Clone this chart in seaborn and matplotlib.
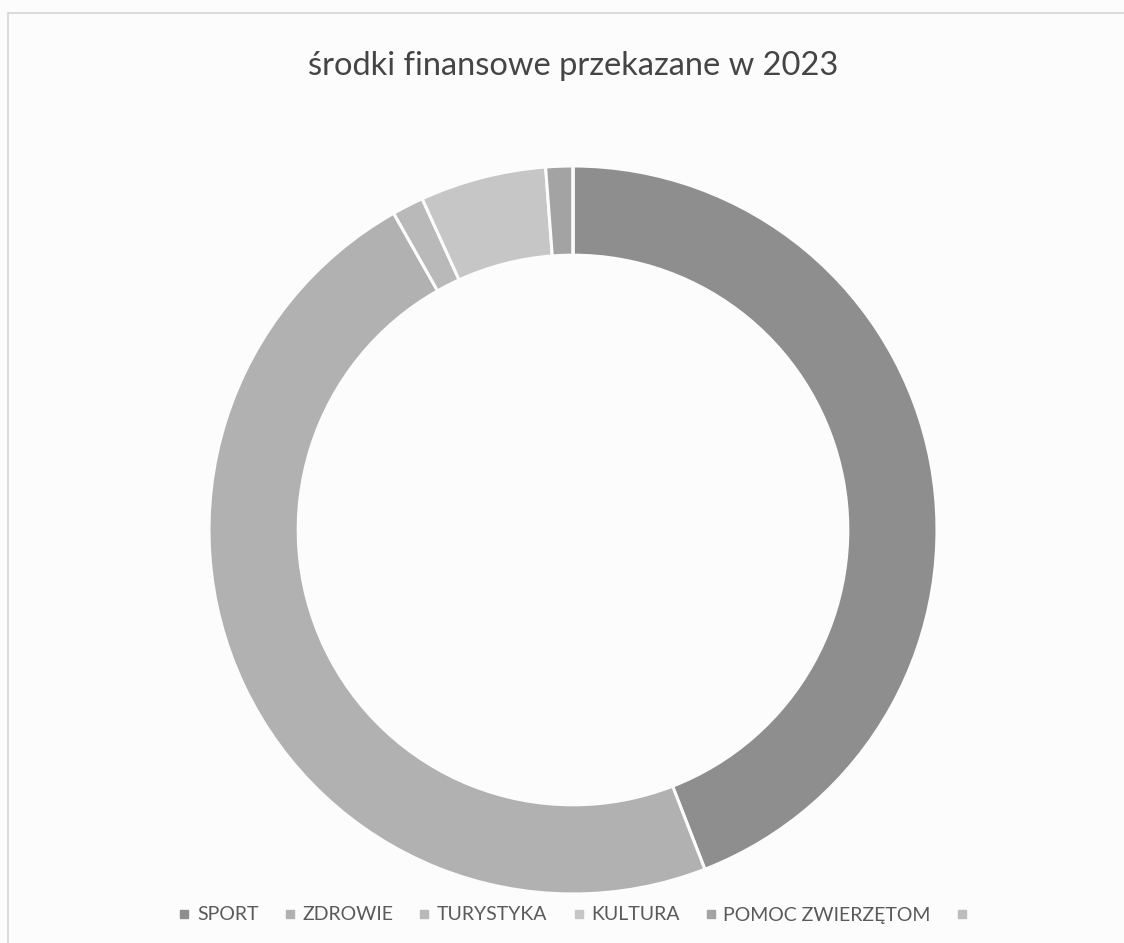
import matplotlib
matplotlib.use("Agg")
import matplotlib.pyplot as plt
import seaborn as sns
from matplotlib.patches import Rectangle
from matplotlib.lines import Line2D

# Data (share of funds, %)
categories = ["SPORT", "ZDROWIE", "TURYSTYKA", "KULTURA", "POMOC ZWIERZĘTOM", ""]
shares = [44.1, 47.7, 1.4, 5.6, 1.2, 0.0]
grays = ["#8e8e8e", "#b1b1b1", "#b9b9b9", "#c6c6c6", "#a3a3a3", "#bdbdbd"]
title = "środki finansowe przekazane w 2023"

sns.set_theme(style="white")
plt.rcParams["font.family"] = ["Lato", "DejaVu Sans"]

W, H = 1124, 943
fig = plt.figure(figsize=(W / 100, H / 100), dpi=100)
fig.patch.set_facecolor("#fcfcfc")

# donut centre and outer radius in pixels
cx, cy, r = 573, 530, 364
ax = fig.add_axes([(cx - r) / W, (H - cy - r) / H, 2 * r / W, 2 * r / H])

ax.pie(shares, colors=grays, startangle=90, counterclock=False, radius=1.0,
       wedgeprops=dict(width=0.245, edgecolor="#fcfcfc", linewidth=2.2))
# pie() widens the limits, pin them back so radius 1 fills the axes
ax.set_xlim(-1, 1)
ax.set_ylim(-1, 1)
ax.set_aspect("equal")
ax.axis("off")

fig.text(cx / W, 1 - 66 / H, title, ha="center", va="center",
         fontsize=23.5, color="#454545")

handles = [Line2D([], [], marker="s", linestyle="none", markersize=6,
                  markerfacecolor=c, markeredgecolor=c) for c in grays]
fig.legend(handles, categories, loc="center", bbox_to_anchor=(576 / W, 1 - 915 / H),
           ncol=6, frameon=False, fontsize=14, labelcolor="#5a5a5a",
           handletextpad=0.3, columnspacing=1.25, handlelength=0.7)

# thin frame of the original chart area
fig.add_artist(Rectangle((8 / W, -0.05), 1.2, (H - 13) / H + 0.05,
                         transform=fig.transFigure, fill=False,
                         edgecolor="#d4d4d4", linewidth=1.2))

fig.savefig("out.png", dpi=100, facecolor=fig.get_facecolor())
